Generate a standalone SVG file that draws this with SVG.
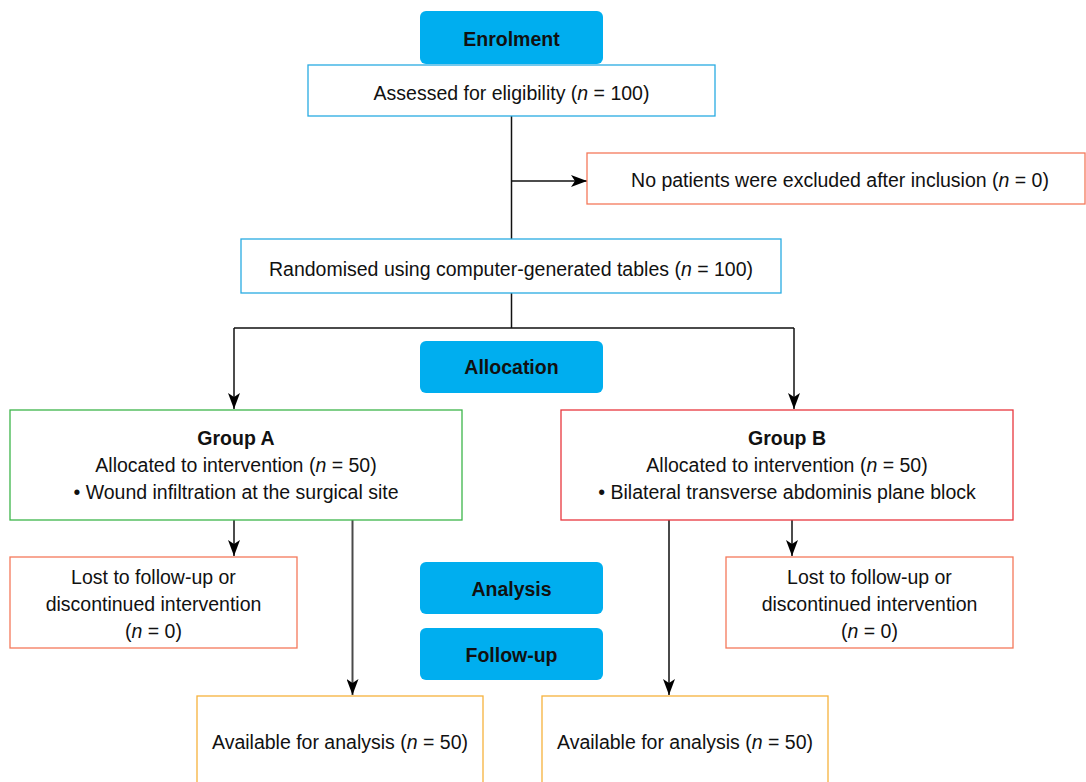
<svg xmlns="http://www.w3.org/2000/svg" width="1086" height="782" viewBox="0 0 1086 782">
<defs>
<marker id="arr" viewBox="0 0 16 12" refX="16" refY="6" markerWidth="16" markerHeight="12" markerUnits="userSpaceOnUse" orient="auto">
<path d="M0,0 L16,6 L0,12 L4,6 Z" fill="#000"/>
</marker>
<style>
text{font-family:"Liberation Sans",Arial,sans-serif;font-size:19.5px;fill:#111;text-anchor:middle}
.b{font-weight:bold;font-size:19.5px}
.hdr{fill:#00AEEF;stroke:none}
.box{fill:#fff;stroke-width:1.3}
.blue{stroke:#29ABE2}
.salmon{stroke:#F4795B}
.green{stroke:#3DB54A}
.red{stroke:#E8373E}
.orange{stroke:#F6B23C}
.ln{fill:none;stroke:#111;stroke-width:1.5}
.gr{fill:none;stroke:#4a4a4a;stroke-width:2}
</style>
</defs>
<rect width="1086" height="782" fill="#fff"/>
<g id="connectors">
<path class="ln" d="M511.5,116 V239"/>
<path class="ln" d="M511.5,181 H587" marker-end="url(#arr)"/>
<path class="ln" d="M511.5,293 V328 M234,328 H794"/>
<path class="ln" d="M234,328 V409" marker-end="url(#arr)"/>
<path class="ln" d="M794,328 V409" marker-end="url(#arr)"/>
<path class="ln" d="M234,520 V556" marker-end="url(#arr)"/>
<path class="ln" d="M792,520 V556" marker-end="url(#arr)"/>
<path class="gr" d="M352.5,520 V695" marker-end="url(#arr)"/>
<path class="gr" d="M669,520 V695" marker-end="url(#arr)"/>
</g>
<g id="enrolment"><rect class="hdr" x="420" y="11" width="183" height="53" rx="6"/><text class="b" x="511.5" y="46">Enrolment</text></g>
<g id="assessed"><rect class="box blue" x="308" y="65" width="407" height="51"/><text x="511.5" y="100">Assessed for eligibility (<tspan font-style="italic">n</tspan> = 100)</text></g>
<g id="excluded"><rect class="box salmon" x="587" y="153" width="498" height="51"/><text x="840" y="187">No patients were excluded after inclusion (<tspan font-style="italic">n</tspan> = 0)</text></g>
<g id="randomised"><rect class="box blue" x="241" y="239" width="540" height="54"/><text x="511" y="276">Randomised using computer-generated tables (<tspan font-style="italic">n</tspan> = 100)</text></g>
<g id="allocation"><rect class="hdr" x="420" y="341" width="183" height="52" rx="6"/><text class="b" x="511.5" y="374">Allocation</text></g>
<g id="groupA"><rect class="box green" x="10" y="410" width="452" height="110"/>
<text class="b" x="236" y="445">Group A</text>
<text x="236" y="472">Allocated to intervention (<tspan font-style="italic">n</tspan> = 50)</text>
<text x="236" y="499">• Wound infiltration at the surgical site</text></g>
<g id="groupB"><rect class="box red" x="561" y="410" width="452" height="110"/>
<text class="b" x="787" y="445">Group B</text>
<text x="787" y="472">Allocated to intervention (<tspan font-style="italic">n</tspan> = 50)</text>
<text x="787" y="499">• Bilateral transverse abdominis plane block</text></g>
<g id="lostA"><rect class="box salmon" x="10" y="557" width="287" height="91"/>
<text x="153.5" y="584">Lost to follow-up or</text>
<text x="153.5" y="611">discontinued intervention</text>
<text x="153.5" y="638">(<tspan font-style="italic">n</tspan> = 0)</text></g>
<g id="lostB"><rect class="box salmon" x="726" y="557" width="287" height="91"/>
<text x="869.5" y="584">Lost to follow-up or</text>
<text x="869.5" y="611">discontinued intervention</text>
<text x="869.5" y="638">(<tspan font-style="italic">n</tspan> = 0)</text></g>
<g id="analysis"><rect class="hdr" x="420" y="562" width="183" height="52" rx="6"/><text class="b" x="511.5" y="596">Analysis</text></g>
<g id="followup"><rect class="hdr" x="420" y="628" width="183" height="52" rx="6"/><text class="b" x="511.5" y="662">Follow-up</text></g>
<g id="availableA"><rect class="box orange" x="197" y="696" width="286" height="100"/><text x="340" y="749">Available for analysis (<tspan font-style="italic">n</tspan> = 50)</text></g>
<g id="availableB"><rect class="box orange" x="542" y="696" width="286" height="100"/><text x="685" y="749">Available for analysis (<tspan font-style="italic">n</tspan> = 50)</text></g>
</svg>
